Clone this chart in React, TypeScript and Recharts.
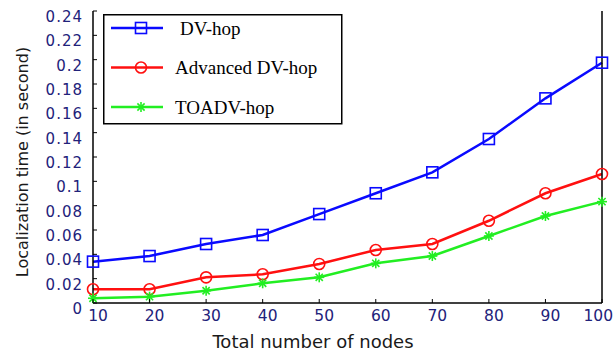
import React from "react";
import { LineChart, Line, XAxis, YAxis, Legend } from "recharts";

const nodes = [10, 20, 30, 40, 50, 60, 70, 80, 90, 100];
const dvHop = [0.034, 0.0386, 0.0485, 0.0559, 0.0731, 0.0902, 0.1074, 0.1348, 0.1682, 0.1975];
const advancedDvHop = [0.0113, 0.0113, 0.0211, 0.0236, 0.0321, 0.0436, 0.0485, 0.0676, 0.0902, 0.106];
const toaDvHop = [0.0039, 0.0052, 0.0101, 0.0162, 0.0211, 0.0326, 0.0386, 0.0551, 0.0715, 0.0833];
const yTicks = [0, 0.02, 0.04, 0.06, 0.08, 0.1, 0.12, 0.14, 0.16, 0.18, 0.2, 0.22, 0.24];

const BLUE = "#0a0aff";
const RED = "#ff1010";
const GREEN = "#22ee22";
const NAVY = "#22227a";
const TICK_FONT = "'DejaVu Sans', sans-serif";

const chartData = nodes.map((n, i) => ({
  nodes: n,
  dv: dvHop[i],
  adv: advancedDvHop[i],
  toa: toaDvHop[i],
}));

const fmt = (v: number) => String(Number(v.toFixed(2)));

// markers
const square = (color: string, size = 11) => (props: any) => {
  const { cx, cy, key } = props;
  return (
    <rect key={key} x={cx - size / 2} y={cy - size / 2} width={size} height={size}
      fill="none" stroke={color} strokeWidth={1.6} />
  );
};
const circle = (color: string, r = 5.5) => (props: any) => {
  const { cx, cy, key } = props;
  return <circle key={key} cx={cx} cy={cy} r={r} fill="none" stroke={color} strokeWidth={1.6} />;
};
const star = (color: string, r = 5) => (props: any) => {
  const { cx, cy, key } = props;
  const d = r * 0.72;
  return (
    <g key={key} stroke={color} strokeWidth={1.6}>
      <line x1={cx - r} y1={cy} x2={cx + r} y2={cy} />
      <line x1={cx} y1={cy - r} x2={cx} y2={cy + r} />
      <line x1={cx - d} y1={cy - d} x2={cx + d} y2={cy + d} />
      <line x1={cx - d} y1={cy + d} x2={cx + d} y2={cy - d} />
    </g>
  );
};

// ticks: labels outside, tick marks inward
const LeftTick = (props: any) => {
  const { x, y, payload } = props;
  return (
    <g>
      <line x1={x} y1={y} x2={x + 4} y2={y} stroke="#000" strokeWidth={1} />
      <text x={x - 10} y={y + 6} textAnchor="end" dominantBaseline="central"
        fill={NAVY} fontSize={15} letterSpacing={1} fontFamily={TICK_FONT}>
        {fmt(payload.value)}
      </text>
    </g>
  );
};
const RightTick = (props: any) => {
  const { x, y } = props;
  return <line x1={x} y1={y} x2={x - 4} y2={y} stroke="#000" strokeWidth={1} />;
};
const BottomTick = (props: any) => {
  const { x, y, payload } = props;
  const last = payload.value === nodes[nodes.length - 1];
  return (
    <g>
      <line x1={x} y1={y} x2={x} y2={y - 4} stroke="#000" strokeWidth={1} />
      <text x={last ? 613 : x + 5} y={y + 18} textAnchor={last ? "end" : "middle"}
        fill={NAVY} fontSize={15.5} fontFamily={TICK_FONT}>
        {payload.value}
      </text>
    </g>
  );
};
const TopTick = (props: any) => {
  const { x, y } = props;
  return <line x1={x} y1={y} x2={x} y2={y + 4} stroke="#000" strokeWidth={1} />;
};

const legendItems = [
  { label: "DV-hop", color: BLUE, marker: square(BLUE), tx: 77 },
  { label: "Advanced DV-hop", color: RED, marker: circle(RED), tx: 72 },
  { label: "TOADV-hop", color: GREEN, marker: star(GREEN), tx: 72 },
];

const LegendBox = () => (
  <svg width={240} height={111}>
    <rect x={0.75} y={0.75} width={238} height={109} fill="#fff" stroke="#000" strokeWidth={1.5} />
    {legendItems.map((item, i) => {
      const cy = 14 + i * 39.5;
      return (
        <g key={item.label}>
          <line x1={8} y1={cy} x2={60} y2={cy} stroke={item.color} strokeWidth={2.5} />
          {item.marker({ cx: 38, cy, key: "m" })}
          <text x={item.tx} y={cy} dominantBaseline="central" fontSize={19}
            fontFamily="'Liberation Serif', serif" fill="#000">
            {item.label}
          </text>
        </g>
      );
    })}
  </svg>
);

export default function App() {
  return (
    <div style={{ position: "absolute", left: 0, top: 0, width: 615, height: 353, background: "#fff" }}>
      <LineChart width={615} height={353} data={chartData}
        margin={{ top: 11, right: 0, bottom: 0, left: 0 }}>
        <XAxis xAxisId="b" dataKey="nodes" type="number" domain={[10, 100]} ticks={nodes}
          height={50} tickSize={0} tickMargin={0} tickLine={false}
          axisLine={{ stroke: "#000", strokeWidth: 1.5 }} tick={<BottomTick />}
          label={{
            content: (p: any) => (
              <text x={p.viewBox.x + 220} y={p.viewBox.y + 45} textAnchor="middle"
                fontSize={18} fontFamily={TICK_FONT} fill="#1a1a1a">
                Total number of nodes
              </text>
            ),
          }} />
        <XAxis xAxisId="t" orientation="top" dataKey="nodes" type="number" domain={[10, 100]}
          ticks={nodes} height={0} tickSize={0} tickMargin={0} tickLine={false}
          axisLine={{ stroke: "#000", strokeWidth: 1.5 }} tick={<TopTick />} />
        <YAxis yAxisId="l" type="number" domain={[0, 0.24]} ticks={yTicks} width={93}
          tickSize={0} tickMargin={0} tickLine={false} interval={0}
          axisLine={{ stroke: "#000", strokeWidth: 1.5 }} tick={<LeftTick />}
          label={{
            content: () => (
              <text x={22} y={162} transform="rotate(-90 22 162)" textAnchor="middle"
                dominantBaseline="central" fontSize={16} fontFamily={TICK_FONT} fill="#1a1a1a">
                Localization time (in second)
              </text>
            ),
          }} />
        <YAxis yAxisId="r" orientation="right" type="number" domain={[0, 0.24]} ticks={yTicks}
          width={13} tickSize={0} tickMargin={0} tickLine={false} interval={0}
          axisLine={{ stroke: "#000", strokeWidth: 1.5 }} tick={<RightTick />} />
        <Legend layout="vertical" align="center" verticalAlign="middle"
          wrapperStyle={{ left: 103, top: 14, width: 240, height: 111 }}
          content={() => <LegendBox />} />
        <Line xAxisId="b" yAxisId="l" dataKey="dv" stroke={BLUE} strokeWidth={2.5}
          dot={square(BLUE)} isAnimationActive={false} />
        <Line xAxisId="b" yAxisId="l" dataKey="adv" stroke={RED} strokeWidth={2.5}
          dot={circle(RED)} isAnimationActive={false} />
        <Line xAxisId="b" yAxisId="l" dataKey="toa" stroke={GREEN} strokeWidth={2.5}
          dot={star(GREEN)} isAnimationActive={false} />
      </LineChart>
    </div>
  );
}
